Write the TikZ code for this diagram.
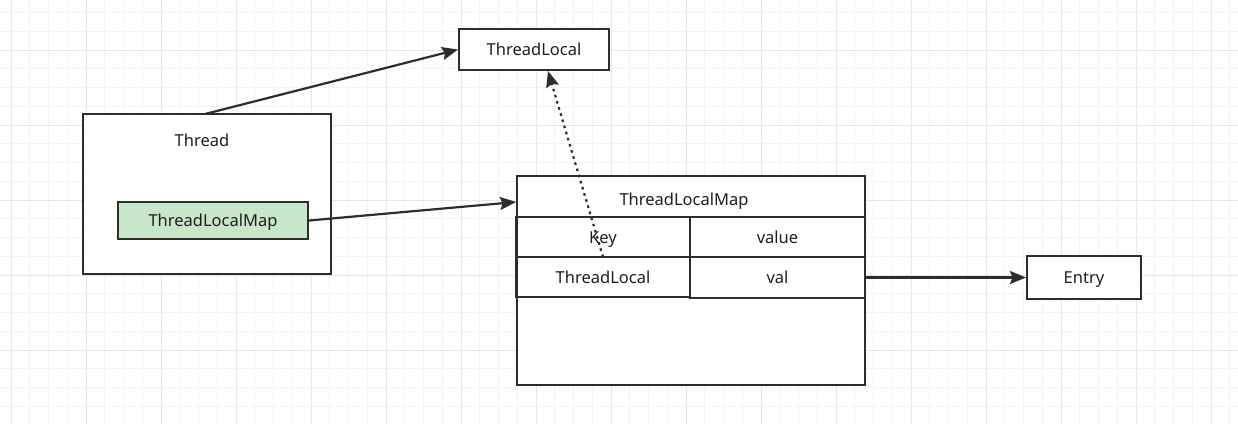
\documentclass[tikz,border=0pt]{standalone}
\usepackage{fontspec}
\setmainfont{Noto Sans}
\usetikzlibrary{arrows.meta,positioning,calc}

\tikzset{
  box/.style={draw=linegray, line width=2pt, fill=white, inner sep=0pt,
    font=\fontsize{16.5}{19}\selectfont, text=textgray, text height=12pt, text depth=0pt},
  cell/.style={box, fill=none},
  boxtext/.style={font=\fontsize{16.5}{19}\selectfont, text=textgray, text height=12pt, text depth=0pt},
  link/.style={draw=linegray, line width=2.2pt,
    -{Stealth[length=16pt,width=13pt,inset=2.5pt]}},
  dotlink/.style={link, dash pattern=on 2.6pt off 3.8pt},
}
\definecolor{linegray}{RGB}{45,45,45}
\definecolor{textgray}{RGB}{30,30,30}
\definecolor{mapgreen}{RGB}{200,230,201}
\definecolor{gridminor}{RGB}{243,243,243}
\definecolor{gridmajor}{RGB}{230,230,230}

\begin{document}
\begin{tikzpicture}[x=1pt,y=-1pt]
    \useasboundingbox (0,0) rectangle (1238,424);
    % background grid
    \foreach \i in {0,...,66}
        \draw[gridminor, line width=0.8pt] ({-7.75+18.75*\i},0) -- ++(0,424);
    \foreach \j in {0,...,23}
        \draw[gridminor, line width=0.8pt] (0,{-6.25+18.75*\j}) -- ++(1238,0);
    \foreach \i in {0,...,16}
        \draw[gridmajor, line width=0.8pt] ({11+75*\i},0) -- ++(0,424);
    \foreach \j in {0,...,5}
        \draw[gridmajor, line width=0.8pt] (0,{50+75*\j}) -- ++(1238,0);

    % nodes
    \node[box, minimum width=150pt, minimum height=41pt] (tl) at (534,49.5) {ThreadLocal};

    \node[box, minimum width=248pt, minimum height=160pt] (thread) at (207,194) {};
    \node[boxtext] (threadlabel) at (202,140) {Thread};
    \node[box, fill=mapgreen, minimum width=190pt, minimum height=37pt] (tlmap) at (213,220.5) {ThreadLocalMap};

    \node[box, minimum width=348pt, minimum height=209pt] (map) at (691,280.5) {};
    \node[boxtext] (maptitle) at (684,199) {ThreadLocalMap};
    \node[cell, minimum width=174pt, minimum height=40pt] (key) at (603,237) {Key};
    \node[cell, minimum width=175pt, minimum height=40pt] (value) at (777.5,237) {value};
    \node[cell, minimum width=174pt, minimum height=40pt] (keyval) at (603,277) {ThreadLocal};
    \node[cell, minimum width=175pt, minimum height=41pt] (valval) at (777.5,277.5) {val};

    \node[box, minimum width=114pt, minimum height=43pt] (entry) at (1084,277.5) {Entry};

    % connectors
    \coordinate (threadtop) at (205,114);
    \draw[link] (threadtop) -- (tl.west);
    \draw[link] (tlmap.east) -- ($(map.north west)+(0,27)$);
    \coordinate (keyfoot) at (603,257);
    \draw[dotlink] (keyfoot) -- ($(tl.south)+(14,0)$);
    \draw[link] (valval.east) -- (entry.west);
\end{tikzpicture}
\end{document}
